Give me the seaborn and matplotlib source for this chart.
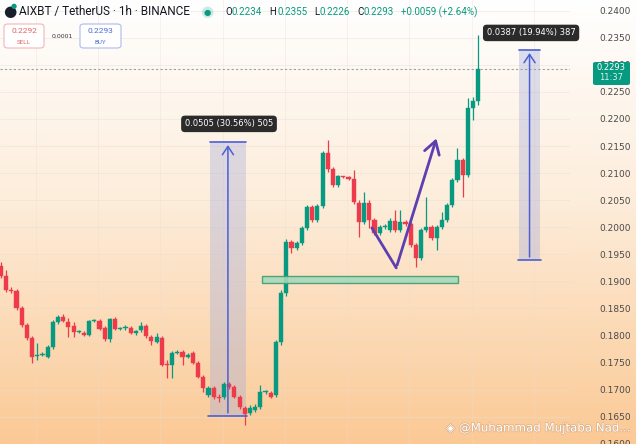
import numpy as np
import pandas as pd
import seaborn as sns
import matplotlib.pyplot as plt
import matplotlib.patheffects as pe
from matplotlib.patches import Rectangle, FancyBboxPatch
from matplotlib.colors import LinearSegmentedColormap

# hourly candles AIXBT / USDT
opens = [0.1929, 0.1910, 0.1884, 0.1882, 0.1851, 0.1820, 0.1796, 0.1762, 0.1764, 0.1760,
         0.1779, 0.1825, 0.1834, 0.1825, 0.1818, 0.1807, 0.1805, 0.1801, 0.1827, 0.1827,
         0.1814, 0.1794, 0.1831, 0.1812, 0.1814, 0.1814, 0.1805, 0.1810, 0.1818, 0.1797,
         0.1788, 0.1796, 0.1746, 0.1746, 0.1768, 0.1770, 0.1760, 0.1768, 0.1749, 0.1724,
         0.1690, 0.1703, 0.1687, 0.1687, 0.1711, 0.1705, 0.1687, 0.1666, 0.1657, 0.1663,
         0.1668, 0.1696, 0.1694, 0.1690, 0.1788, 0.1879, 0.1973, 0.1962, 0.1971, 0.1999,
         0.2038, 0.2014, 0.2039, 0.2137, 0.2108, 0.2078, 0.2093, 0.2093, 0.2089, 0.2045,
         0.2010, 0.2045, 0.2014, 0.1989, 0.2001, 0.1995, 0.2012, 0.1995, 0.2010, 0.2006,
         0.1967, 0.1943, 0.1995, 0.2001, 0.1980, 0.2001, 0.2014, 0.2041, 0.2087, 0.2124,
         0.2097, 0.2220, 0.2234]
closes = [0.1910, 0.1884, 0.1882, 0.1851, 0.1820, 0.1796, 0.1760, 0.1764, 0.1766, 0.1779,
          0.1825, 0.1834, 0.1827, 0.1816, 0.1807, 0.1807, 0.1801, 0.1827, 0.1828, 0.1812,
          0.1794, 0.1831, 0.1812, 0.1812, 0.1816, 0.1805, 0.1808, 0.1818, 0.1799, 0.1790,
          0.1797, 0.1746, 0.1745, 0.1768, 0.1770, 0.1760, 0.1764, 0.1749, 0.1724, 0.1703,
          0.1703, 0.1687, 0.1685, 0.1711, 0.1705, 0.1687, 0.1668, 0.1655, 0.1666, 0.1668,
          0.1696, 0.1697, 0.1687, 0.1788, 0.1879, 0.1973, 0.1962, 0.1971, 0.1999, 0.2038,
          0.2014, 0.2039, 0.2137, 0.2108, 0.2078, 0.2095, 0.2092, 0.2089, 0.2047, 0.2010,
          0.2045, 0.2014, 0.1989, 0.2001, 0.2002, 0.2012, 0.1995, 0.2010, 0.2006, 0.1967,
          0.1943, 0.1995, 0.2001, 0.1980, 0.2001, 0.2014, 0.2041, 0.2087, 0.2124, 0.2097,
          0.2220, 0.2233, 0.2293]
highs = [0.1936, 0.1921, 0.1890, 0.1886, 0.1855, 0.1823, 0.1799, 0.1786, 0.1770, 0.1783,
         0.1829, 0.1838, 0.1840, 0.1833, 0.1825, 0.1810, 0.1808, 0.1829, 0.1831, 0.1831,
         0.1818, 0.1833, 0.1834, 0.1816, 0.1820, 0.1818, 0.1810, 0.1825, 0.1821, 0.1801,
         0.1805, 0.1799, 0.1755, 0.1772, 0.1773, 0.1773, 0.1768, 0.1772, 0.1753, 0.1727,
         0.1707, 0.1707, 0.1692, 0.1714, 0.1714, 0.1709, 0.1690, 0.1670, 0.1672, 0.1674,
         0.1709, 0.1699, 0.1698, 0.1792, 0.1884, 0.1978, 0.1977, 0.1975, 0.2002, 0.2041,
         0.2041, 0.2043, 0.2141, 0.2161, 0.2111, 0.2097, 0.2095, 0.2095, 0.2106, 0.2050,
         0.2065, 0.2050, 0.2017, 0.2004, 0.2006, 0.2017, 0.2032, 0.2032, 0.2014, 0.2010,
         0.1971, 0.1999, 0.2056, 0.2004, 0.2004, 0.2028, 0.2045, 0.2091, 0.2146, 0.2128,
         0.2239, 0.2241, 0.2355]
lows = [0.1906, 0.1881, 0.1879, 0.1847, 0.1816, 0.1792, 0.1749, 0.1755, 0.1762, 0.1759,
        0.1775, 0.1821, 0.1825, 0.1797, 0.1797, 0.1805, 0.1799, 0.1799, 0.1825, 0.1810,
        0.1790, 0.1788, 0.1810, 0.1810, 0.1810, 0.1803, 0.1801, 0.1807, 0.1796, 0.1783,
        0.1786, 0.1744, 0.1722, 0.1722, 0.1766, 0.1746, 0.1759, 0.1748, 0.1722, 0.1696,
        0.1687, 0.1683, 0.1677, 0.1683, 0.1701, 0.1685, 0.1664, 0.1635, 0.1653, 0.1659,
        0.1664, 0.1692, 0.1685, 0.1687, 0.1783, 0.1873, 0.1953, 0.1958, 0.1967, 0.1995,
        0.2010, 0.2010, 0.2036, 0.2102, 0.2074, 0.2074, 0.2091, 0.2087, 0.2043, 0.1982,
        0.2006, 0.1999, 0.1986, 0.1986, 0.1997, 0.1991, 0.1991, 0.1991, 0.2002, 0.1964,
        0.1927, 0.1940, 0.1991, 0.1977, 0.1958, 0.1997, 0.2010, 0.2038, 0.2084, 0.2056,
        0.2093, 0.2198, 0.2226]

price_ticks = [0.1600, 0.1650, 0.1700, 0.1750, 0.1800, 0.1850, 0.1900, 0.1950, 0.2000,
               0.2050, 0.2100, 0.2150, 0.2200, 0.2250, 0.2300, 0.2350, 0.2400]
last_price = 0.2293

# drawings on the chart (price levels)
measure1 = dict(x0=40.3, x1=47.2, low=0.1652, high=0.2157, label="0.0505 (30.56%) 505")
measure2 = dict(x0=99.9, x1=103.9, low=0.1940, high=0.2327, label="0.0387 (19.94%) 387")
zone = dict(x0=50.3, x1=88.1, low=0.1897, high=0.1910)
path_x = [71.5, 76.2, 84.1]
path_y = [0.1999, 0.1925, 0.2169]

UP = '#089981'
DOWN = '#ee3b4b'
W, H = 636, 444


def px(x, y):
    return x / W, 1 - y / H


df = pd.DataFrame({'open': opens, 'close': closes, 'high': highs, 'low': lows})
df['idx'] = np.arange(len(df))
df['color'] = np.where(df['close'] >= df['open'], UP, DOWN)
df['bottom'] = df[['open', 'close']].min(axis=1)
df['body'] = (df['close'] - df['open']).abs().clip(lower=0.00022)

sns.set_style("white")
plt.rcParams['font.family'] = ['DejaVu Sans']

fig = plt.figure(figsize=(W / 100, H / 100), dpi=100)

# background gradient
bg = fig.add_axes([0, 0, 1, 1], zorder=0)
cmap = LinearSegmentedColormap.from_list('bg', [(0, '#ffffff'), (0.45, '#fdeddb'), (1, '#fbc995')])
bg.imshow(np.linspace(0, 1, 256).reshape(-1, 1), aspect='auto', cmap=cmap, extent=[0, 1, 0, 1])
bg.axis('off')

ax = fig.add_axes([0, 0, 570 / W, 1], zorder=1)
ax.set_facecolor('none')

# faint grid
for p in price_ticks:
    ax.axhline(p, color='#e8ddd2', lw=0.6, alpha=0.5, zorder=0)
for gx in np.arange(6.75, 110, 12):
    ax.axvline(gx, color='#e8ddd2', lw=0.6, alpha=0.4, zorder=0)

# candles
ax.vlines(df['idx'], df['low'], df['high'], colors=df['color'], lw=0.9, zorder=3)
ax.bar(df['idx'], df['body'], bottom=df['bottom'], width=0.8, color=df['color'],
       edgecolor=df['color'], linewidth=0.3, zorder=4)

# measurement tools
for m in (measure1, measure2):
    ax.add_patch(Rectangle((m['x0'], m['low']), m['x1'] - m['x0'], m['high'] - m['low'],
                           facecolor='#9fa8da', alpha=0.35, edgecolor='none', zorder=2))
    ax.plot([m['x0'], m['x1']], [m['high'], m['high']], color='#4c5fd5', lw=1.2, zorder=5)
    ax.plot([m['x0'] - 0.3, m['x1'] + 0.3], [m['low'], m['low']], color='#4c5fd5', lw=1.2, zorder=5)
    mid = (m['x0'] + m['x1']) / 2
    ax.annotate('', xy=(mid, m['high']), xytext=(mid, m['low']),
                arrowprops=dict(arrowstyle='->,head_length=0.6,head_width=0.4', color='#4c5fd5', lw=1.1),
                zorder=5)
ax.text(43.96, 0.2191, measure1['label'], ha='center', va='center', color='white', fontsize=6,
        bbox=dict(boxstyle='round,pad=0.45', fc='#2b2b2b', ec='none'), zorder=6)
ax.text(102.2, 0.2359, measure2['label'], ha='center', va='center', color='white', fontsize=6,
        bbox=dict(boxstyle='round,pad=0.45', fc='#2b2b2b', ec='none'), zorder=6, clip_on=False)

# support zone
ax.add_patch(Rectangle((zone['x0'], zone['low']), zone['x1'] - zone['x0'], zone['high'] - zone['low'],
                       facecolor='#a8d8bd', edgecolor='#3e9e6c', lw=1, alpha=0.9, zorder=5))

# purple projection path
ax.plot(path_x[:2], path_y[:2], color='#5e3fb0', lw=2, solid_capstyle='round', zorder=6)
ax.annotate('', xy=(path_x[2], path_y[2]), xytext=(path_x[1], path_y[1]),
            arrowprops=dict(arrowstyle='->,head_length=0.9,head_width=0.55', color='#5e3fb0', lw=2),
            zorder=6)

# last price line
ax.axhline(last_price, color='#9aa0a6', lw=0.8, ls=(0, (2, 2)), zorder=2)

ax.set_xlim(-0.19, 109.7)
ax.set_ylim(0.15997, 0.24198)
ax.set_xticks([])
ax.yaxis.tick_right()
ax.set_yticks(price_ticks)
ax.set_yticklabels([f"{p:.4f}" for p in price_ticks])
ax.tick_params(axis='y', length=0, pad=21, labelsize=6.5, labelcolor='#4a4a4a')
sns.despine(ax=ax, left=True, bottom=True, right=True, top=True)

# last price tag
fig.patches.append(FancyBboxPatch(px(593, 85), 37 / W, 23 / H, boxstyle='round,pad=0,rounding_size=0.004',
                                  transform=fig.transFigure, fc=UP, ec='none', zorder=5))
fig.text(*px(611, 68), "0.2293", ha='center', va='center', color='white', fontsize=6, zorder=6)
fig.text(*px(611, 78), "11:37", ha='center', va='center', color='#d9f2ea', fontsize=6, zorder=6)

# header
fig.text(*px(10, 12), "●", ha='center', va='center', color='#1a1e2a', fontsize=11, zorder=6)
fig.text(*px(14, 6), "●", ha='center', va='center', color=UP, fontsize=5, zorder=6)
fig.text(*px(19, 12), "AIXBT / TetherUS · 1h · BINANCE", ha='left', va='center', color='#131722',
         fontsize=8.5, family=['Roboto', 'DejaVu Sans'], zorder=6)
fig.text(*px(207, 12), "●", ha='center', va='center', color=UP, fontsize=11, alpha=0.2, zorder=6)
fig.text(*px(207, 12), "●", ha='center', va='center', color=UP, fontsize=6, zorder=6)
ohlc = [(225, "O", '#131722'), (232, "0.2234", UP), (269, "H", '#131722'), (277, "0.2355", UP),
        (314, "L", '#131722'), (320, "0.2226", UP), (357, "C", '#131722'), (364, "0.2293", UP),
        (401, "+0.0059 (+2.64%)", UP)]
for x, s, c in ohlc:
    fig.text(*px(x, 12), s, ha='left', va='center', color=c, fontsize=7,
             family=['Roboto', 'DejaVu Sans'], zorder=6)

# sell / buy buttons
for x0, x1, price, lab, col, edge in [(4, 44, "0.2292", "SELL", '#e06666', '#f2b6b6'),
                                     (80, 121, "0.2293", "BUY", '#4a6fd6', '#a9bde9')]:
    fig.patches.append(FancyBboxPatch(px(x0, 48), (x1 - x0) / W, 24 / H,
                                      boxstyle='round,pad=0,rounding_size=0.006',
                                      transform=fig.transFigure, fc='white', ec=edge, lw=0.8, zorder=5))
    fig.text(*px((x0 + x1) / 2, 31), price, ha='center', va='center', color=col, fontsize=6,
             family=['Roboto', 'DejaVu Sans'], zorder=6)
    fig.text(*px((x0 + x1) / 2, 42), lab, ha='center', va='center', color=col, fontsize=4.5,
             family=['Roboto', 'DejaVu Sans'], zorder=6)
fig.text(*px(62, 36), "0.0001", ha='center', va='center', color='#333333', fontsize=4.5, zorder=6)

# watermark
fig.text(*px(446, 428), "◈ @Muhammad Mujtaba Nad...", ha='left', va='center', color='white',
         fontsize=8.5, zorder=6, path_effects=[pe.withStroke(linewidth=1.0, foreground='#dcae86')])

fig.savefig('out.png', dpi=100)
